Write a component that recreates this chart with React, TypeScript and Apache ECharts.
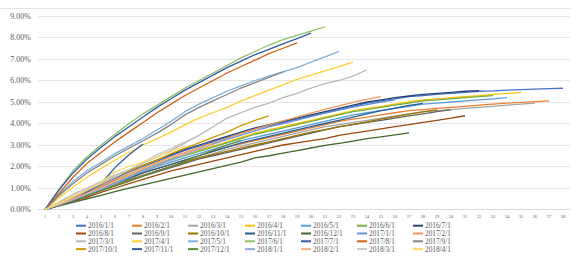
import React, { useEffect, useRef } from "react";
import * as echarts from "echarts";

const categories = Array.from({ length: 38 }, (_, i) => String(i + 1));
const yTicks = { min: 0, max: 9, interval: 1 };

const names = [
  "2016/1/1", "2016/2/1", "2016/3/1", "2016/4/1", "2016/5/1", "2016/6/1", "2016/7/1",
  "2016/8/1", "2016/9/1", "2016/10/1", "2016/11/1", "2016/12/1", "2017/1/1", "2017/2/1",
  "2017/3/1", "2017/4/1", "2017/5/1", "2017/6/1", "2017/7/1", "2017/8/1", "2017/9/1",
  "2017/10/1", "2017/11/1", "2017/12/1", "2018/1/1", "2018/2/1", "2018/3/1", "2018/4/1",
];

const colors = [
  "#4472C4", "#ED7D31", "#A5A5A5", "#FFC000", "#5B9BD5", "#70AD47", "#264478",
  "#9E480E", "#636363", "#997300", "#255E91", "#43682B", "#698ED0", "#F1975A",
  "#B7B7B7", "#FFCD33", "#7CAFDD", "#8CC168", "#335AA1", "#D26012", "#848484",
  "#CC9A00", "#2F5FA6", "#5A8A3A", "#8FAADC", "#F4B183", "#C9C9C9", "#FFD966",
];

const s01 = [0,0.25,0.55,0.85,1.15,1.45,1.75,2.0,2.25,2.5,2.75,2.95,3.15,3.35,3.55,3.75,3.9,4.05,4.2,4.35,4.5,4.65,4.8,4.95,5.05,5.15,5.25,5.3,5.35,5.4,5.45,5.5,5.52,5.55,5.58,5.6,5.62,5.64];
const s02 = [0,0.2,0.45,0.7,0.95,1.2,1.45,1.7,1.9,2.1,2.3,2.5,2.7,2.9,3.05,3.2,3.35,3.5,3.65,3.8,3.95,4.1,4.2,4.3,4.4,4.5,4.6,4.65,4.7,4.75,4.8,4.85,4.9,4.95,4.98,5.02,5.05];
const s03 = [0,0.2,0.4,0.65,0.9,1.15,1.4,1.6,1.8,2.0,2.2,2.4,2.6,2.8,2.95,3.1,3.25,3.4,3.55,3.7,3.85,3.95,4.05,4.15,4.25,4.35,4.45,4.55,4.6,4.65,4.7,4.75,4.8,4.85,4.9,4.95];
const s04 = [0,0.25,0.5,0.8,1.05,1.35,1.6,1.85,2.1,2.35,2.55,2.75,2.95,3.15,3.35,3.55,3.7,3.85,4.0,4.15,4.3,4.45,4.6,4.7,4.8,4.9,5.0,5.1,5.15,5.2,5.25,5.3,5.35,5.4,5.45];
const s05 = [0,0.22,0.48,0.75,1.0,1.25,1.5,1.75,2.0,2.2,2.4,2.6,2.8,3.0,3.2,3.35,3.5,3.65,3.8,3.95,4.1,4.25,4.4,4.5,4.6,4.7,4.8,4.9,4.95,5.0,5.05,5.1,5.15,5.2];
const s06 = [0,0.25,0.5,0.78,1.05,1.3,1.55,1.8,2.05,2.3,2.5,2.7,2.9,3.1,3.3,3.5,3.65,3.8,3.95,4.1,4.25,4.4,4.55,4.65,4.75,4.85,4.95,5.05,5.1,5.15,5.2,5.25,5.3];
const s07 = [0,0.28,0.58,0.9,1.2,1.5,1.8,2.05,2.3,2.55,2.8,3.0,3.2,3.4,3.6,3.8,3.95,4.1,4.25,4.4,4.55,4.7,4.85,5.0,5.1,5.2,5.28,5.35,5.4,5.45,5.5,5.53];
const s08 = [0,0.18,0.38,0.58,0.8,1.0,1.2,1.4,1.6,1.8,1.95,2.1,2.25,2.4,2.55,2.7,2.85,3.0,3.1,3.2,3.3,3.45,3.55,3.65,3.75,3.85,3.95,4.05,4.15,4.25,4.36];
const s09 = [0,0.2,0.42,0.65,0.88,1.1,1.32,1.55,1.75,1.95,2.15,2.35,2.5,2.65,2.8,2.95,3.1,3.25,3.4,3.55,3.7,3.85,3.95,4.05,4.15,4.25,4.35,4.45,4.55,4.65];
const s10 = [0,0.22,0.45,0.68,0.9,1.12,1.35,1.58,1.8,2.0,2.2,2.4,2.55,2.7,2.85,3.0,3.15,3.3,3.45,3.6,3.72,3.84,3.96,4.08,4.2,4.32,4.44,4.54,4.63];
const s11 = [0,0.22,0.46,0.7,0.95,1.2,1.45,1.7,1.9,2.1,2.3,2.5,2.7,2.9,3.1,3.25,3.4,3.55,3.7,3.85,4.0,4.15,4.3,4.45,4.6,4.72,4.84,4.94];
const s12 = [0,0.17,0.33,0.5,0.66,0.83,0.99,1.15,1.3,1.45,1.6,1.75,1.9,2.05,2.2,2.4,2.5,2.62,2.74,2.86,2.98,3.08,3.18,3.3,3.38,3.47,3.56];
const s13 = [0,0.25,0.52,0.8,1.08,1.35,1.62,1.88,2.12,2.36,2.6,2.82,3.04,3.26,3.46,3.66,3.84,4.0,4.16,4.32,4.48,4.62,4.76,4.88,5.0,5.1];
const s14 = [0,0.25,0.52,0.8,1.1,1.38,1.66,1.92,2.18,2.42,2.66,2.88,3.1,3.32,3.54,3.74,3.94,4.12,4.3,4.48,4.66,4.82,4.98,5.12,5.25];
const s15 = [0,0.35,0.7,1.0,1.3,1.6,1.85,2.15,2.45,2.75,3.1,3.45,3.85,4.25,4.5,4.75,4.95,5.2,5.4,5.65,5.85,6.0,6.2,6.5];
const s16 = [0,0.55,1.05,1.5,1.9,2.3,2.65,3.0,3.3,3.6,3.95,4.25,4.5,4.75,5.05,5.3,5.55,5.8,6.05,6.25,6.45,6.65,6.85];
const s17 = [0,0.7,1.3,1.8,2.2,2.6,2.95,3.3,3.7,4.1,4.55,4.9,5.2,5.5,5.75,6.0,6.2,6.4,6.6,6.85,7.1,7.35];
const s18 = [0,0.95,1.8,2.45,3.0,3.5,4.0,4.45,4.85,5.25,5.65,6.0,6.35,6.7,7.05,7.35,7.65,7.9,8.1,8.3,8.5];
const s19 = [0,0.9,1.7,2.35,2.9,3.4,3.85,4.3,4.75,5.15,5.55,5.9,6.25,6.6,6.9,7.2,7.45,7.7,7.95,8.2];
const s20 = [0,0.75,1.5,2.15,2.65,3.15,3.6,4.05,4.5,4.9,5.3,5.65,6.0,6.35,6.65,6.95,7.25,7.5,7.75];
const s21 = [0,0.65,1.2,1.7,2.1,2.5,2.85,3.2,3.55,3.95,4.4,4.75,5.05,5.35,5.65,5.9,6.15,6.4];
const s22 = [0,0.3,0.6,0.9,1.2,1.5,1.8,2.05,2.3,2.6,2.85,3.1,3.35,3.6,3.9,4.15,4.35];
const s23 = [0,0.2,0.45,0.8,1.2,1.95,2.55,3.05];
const s24 = [0,0.2,0.42,0.65,0.88,1.1,1.32,1.55,1.78,2.0,2.25,2.5,2.75,3.0,3.2];
const s25 = [0,0.22,0.45,0.7,0.95,1.2,1.5,1.8,2.05,2.3,2.55,2.8,3.05,3.3];
const s26 = [0,0.25,0.5,0.75,1.0,1.3,1.6,1.9,2.15,2.4,2.6,2.85,3.05];
const s27 = [0,0.3,0.6,0.9,1.2,1.5,1.85,2.2,2.55,2.85,3.15,3.45];
const s28 = [0,0.3,0.6,0.9,1.25,1.75,2.0,2.2,2.45,2.7,2.95];

const seriesValues = [
  s01, s02, s03, s04, s05, s06, s07, s08, s09, s10, s11, s12, s13, s14,
  s15, s16, s17, s18, s19, s20, s21, s22, s23, s24, s25, s26, s27, s28,
];

const FONT = "'Liberation Serif', 'Times New Roman', serif";

export default function App() {
  const ref = useRef<HTMLDivElement>(null);
  useEffect(() => {
    if (!ref.current) return;
    const chart = echarts.init(ref.current, null, { renderer: "svg" });
    const colLefts = [76, 132, 188, 245, 301, 357, 413];
    const legends = colLefts.map((left, j) => ({
      orient: "vertical",
      left,
      top: 221.8,
      padding: 0,
      itemWidth: 10,
      itemHeight: 2,
      itemGap: 0,
      icon: "rect",
      selectedMode: false,
      textStyle: {
        fontSize: 7.3,
        fontFamily: FONT,
        color: "#595959",
        lineHeight: 7.8,
        padding: [0, 0, 0, -3],
      },
      data: [0, 1, 2, 3].map((i) => names[i * 7 + j]),
    }));
    chart.setOption({
      animation: false,
      color: colors,
      graphic: [
        {
          type: "line",
          shape: { x1: 0, y1: 8.5, x2: 571, y2: 8.5 },
          style: { stroke: "#E3E3E3", lineWidth: 1 },
          silent: true,
        },
      ],
      grid: { left: 38, right: 1, top: 16, bottom: 47.5, containLabel: false },
      legend: legends,
      xAxis: {
        type: "category",
        data: categories,
        boundaryGap: true,
        axisLine: { lineStyle: { color: "#D9D9D9", width: 1 } },
        axisTick: { show: false },
        axisLabel: {
          interval: 0,
          fontSize: 4.5,
          fontFamily: FONT,
          color: "#595959",
          margin: 4,
        },
      },
      yAxis: {
        type: "value",
        min: yTicks.min,
        max: yTicks.max,
        interval: yTicks.interval,
        axisLine: { show: false },
        axisTick: { show: false },
        splitLine: { lineStyle: { color: "#E6E6E6", width: 1 } },
        axisLabel: {
          fontSize: 8,
          fontFamily: FONT,
          color: "#595959",
          margin: 7,
          formatter: (v: number) => v.toFixed(2) + "%",
        },
      },
      series: seriesValues.map((vals, i) => ({
        name: names[i],
        type: "line",
        data: vals,
        showSymbol: false,
        symbol: "none",
        lineStyle: { width: 1.3, color: colors[i] },
        itemStyle: { color: colors[i] },
      })),
    });
    return () => chart.dispose();
  }, []);
  return (
    <div
      ref={ref}
      style={{ position: "fixed", left: 0, top: 0, width: 571, height: 257, background: "#fff" }}
    />
  );
}
